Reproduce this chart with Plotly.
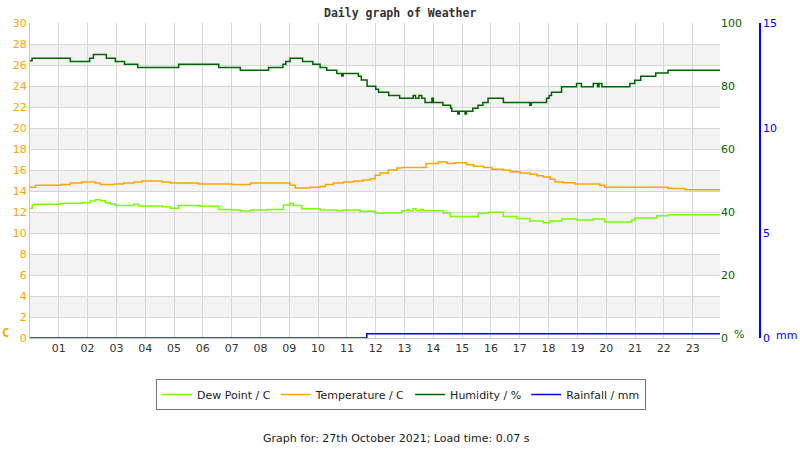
import plotly.graph_objects as go

# ---- data (hour of day, value) step points ----
hour_ticks = list(range(1, 24))
hour_labels = ["%02d" % h for h in hour_ticks]

humidity_steps = [
    (0, 88.0), (0.07, 88.8), (1.40, 87.8), (2.07, 88.8), (2.20, 90.0), (2.65, 88.8),
    (2.96, 87.8), (3.28, 86.9), (3.74, 85.9), (5.16, 86.9), (6.55, 85.9), (7.30, 85.0),
    (8.28, 85.9), (8.78, 86.9), (8.88, 87.8), (9.03, 88.8), (9.46, 87.8), (9.82, 86.9),
    (10.07, 85.9), (10.30, 85.0), (10.65, 84.0), (10.82, 83.2), (10.87, 84.0), (11.40, 83.1),
    (11.50, 81.9), (11.70, 79.9), (12.00, 79.0), (12.10, 78.0), (12.45, 77.0), (12.83, 76.1),
    (13.30, 77.0), (13.38, 76.1), (13.50, 77.0), (13.60, 76.1), (13.71, 74.8), (13.95, 76.1),
    (14.00, 74.8), (14.33, 73.9), (14.60, 72.9), (14.64, 72.0), (14.85, 71.1), (14.90, 72.0),
    (15.10, 71.1), (15.15, 72.0), (15.37, 72.9), (15.55, 73.9), (15.72, 74.8), (15.90, 76.1),
    (16.43, 74.8), (17.35, 73.9), (17.40, 74.8), (17.93, 76.1), (18.02, 77.0), (18.10, 78.0),
    (18.45, 79.8), (18.97, 80.8), (19.14, 79.8), (19.55, 80.8), (19.70, 79.8), (19.75, 80.8),
    (19.85, 79.8), (20.82, 80.8), (20.99, 81.8), (21.20, 83.1), (21.72, 84.1), (22.15, 85.0),
    (23.95, 85.0),
]

temperature_steps = [
    (0, 14.35), (0.19, 14.54), (1.06, 14.63), (1.40, 14.76), (1.81, 14.86), (2.27, 14.76),
    (2.44, 14.63), (2.91, 14.67), (3.25, 14.76), (3.60, 14.86), (3.89, 14.95), (4.58, 14.86),
    (4.87, 14.76), (5.85, 14.67), (7.01, 14.63), (7.65, 14.76), (9.03, 14.54), (9.21, 14.29),
    (9.73, 14.35), (10.07, 14.44), (10.25, 14.63), (10.53, 14.76), (10.88, 14.86), (11.23, 14.95),
    (11.57, 15.05), (11.81, 15.17), (11.98, 15.49), (12.15, 15.71), (12.44, 16.00), (12.73, 16.19),
    (12.90, 16.25), (13.75, 16.63), (14.17, 16.76), (14.47, 16.63), (14.75, 16.70), (15.16, 16.50),
    (15.39, 16.35), (15.74, 16.25), (16.03, 16.07), (16.43, 15.98), (16.66, 15.84), (17.01, 15.71),
    (17.35, 15.59), (17.59, 15.46), (17.82, 15.33), (18.05, 15.11), (18.22, 14.86), (18.51, 14.79),
    (18.91, 14.67), (19.78, 14.54), (19.95, 14.35), (22.15, 14.25), (22.73, 14.13), (23.95, 14.13),
]

dewpoint_steps = [
    (0, 12.35), (0.08, 12.67), (0.16, 12.73), (1.06, 12.83), (1.81, 12.89), (2.10, 13.05),
    (2.27, 13.17), (2.44, 13.08), (2.61, 12.89), (2.79, 12.76), (2.96, 12.63), (3.60, 12.73),
    (3.77, 12.57), (4.58, 12.51), (4.87, 12.35), (5.16, 12.63), (5.91, 12.54), (6.55, 12.25),
    (7.01, 12.19), (7.30, 12.10), (7.65, 12.19), (8.23, 12.25), (8.80, 12.67), (9.03, 12.83),
    (9.14, 12.63), (9.43, 12.32), (10.07, 12.19), (10.65, 12.13), (10.88, 12.19), (11.46, 12.06),
    (11.98, 11.87), (12.15, 11.90), (12.90, 12.13), (13.10, 12.25), (13.15, 12.13), (13.30, 12.30),
    (13.40, 12.13), (13.55, 12.25), (13.65, 12.13), (14.35, 11.87), (14.58, 11.56), (15.56, 11.87),
    (15.91, 11.97), (16.43, 11.56), (16.89, 11.37), (17.35, 11.14), (17.82, 10.98), (18.05, 11.14),
    (18.45, 11.33), (18.97, 11.24), (19.55, 11.33), (19.95, 11.05), (20.88, 11.24), (20.99, 11.43),
    (21.75, 11.65), (22.15, 11.75), (23.95, 11.75),
]

rainfall_steps = [(0, 0.0), (11.69, 0.2), (23.95, 0.2)]

temp_ticks = list(range(0, 31, 2))
hum_ticks = [0, 20, 40, 60, 80, 100]
rain_ticks = [0, 5, 10, 15]

# ---- layout constants ----
W, H = 800, 450
ML, MR, MT, MB = 30, 30, 23, 112
PW = W - ML - MR
PH = H - MT - MB
plot_right = 720


def px_x(px):
    return (px - ML) / PW


def px_y(py):
    return (H - MB - py) / PH


FONT = "DejaVu Sans"
ORANGE = "#FFA500"
GREEN = "#006400"
LIME = "#7CFC00"
BLUE = "#0000FF"
GRID = "#d6d6d6"

fig = go.Figure()

series = [
    ("Dew Point / C", dewpoint_steps, LIME, "y"),
    ("Temperature / C", temperature_steps, ORANGE, "y"),
    ("Humidity / %", humidity_steps, GREEN, "y2"),
    ("Rainfall / mm", rainfall_steps, BLUE, "y3"),
]
for name, steps, color, ax in series:
    xs = [p[0] for p in steps]
    ys = [p[1] for p in steps]
    fig.add_trace(go.Scatter(
        x=xs, y=ys, mode="lines", name=name, yaxis=ax,
        line=dict(shape="hv", color=color, width=1.5),
        hoverinfo="skip",
    ))

# alternating bands
shapes = []
for b in range(2, 30, 4):
    shapes.append(dict(type="rect", xref="x domain", yref="y", x0=0, x1=1, y0=b, y1=b + 2,
                       fillcolor="#f3f3f3", line=dict(width=0), layer="below"))

xdom = (plot_right - ML) / PW

fig.update_layout(
    width=W, height=H, autosize=False,
    margin=dict(l=ML, r=MR, t=MT, b=MB),
    paper_bgcolor="white", plot_bgcolor="white",
    font=dict(family=FONT, size=11, color="#333333"),
    shapes=shapes,
    showlegend=True,
    legend=dict(orientation="h", x=px_x(401), xanchor="center", y=px_y(379), yanchor="top",
                bordercolor="#777777", borderwidth=1, font=dict(size=11, color="#222222"),
                itemwidth=30, traceorder="normal"),
    xaxis=dict(domain=[0, xdom], range=[0, 23.95], tickvals=hour_ticks, ticktext=hour_labels,
               showgrid=True, gridcolor=GRID, gridwidth=1, showline=True, linecolor="#c8c8c8",
               zeroline=False, ticks="", tickfont=dict(size=11, color="#333333")),
    yaxis=dict(range=[0, 30], tickvals=temp_ticks, showgrid=True, gridcolor=GRID, gridwidth=1,
               showline=True, linecolor="#c8c8c8", zeroline=False, ticks="",
               tickfont=dict(size=11, color=ORANGE)),
    yaxis2=dict(range=[0, 100], tickvals=hum_ticks, overlaying="y", side="right", anchor="x",
                showgrid=False, zeroline=False, showline=False, ticks="",
                tickfont=dict(size=11, color=GREEN)),
    yaxis3=dict(range=[0, 15], tickvals=rain_ticks, overlaying="y", side="right", anchor="free",
                position=px_x(760), showgrid=False, zeroline=False, showline=True,
                linecolor=BLUE, linewidth=1.5, ticks="",
                tickfont=dict(size=11, color=BLUE)),
)

annotations = [
    dict(text="<b>Daily graph of Weather</b>", x=px_x(400), y=px_y(13), xref="paper", yref="paper",
         showarrow=False, xanchor="center", yanchor="middle",
         font=dict(family="DejaVu Sans Mono", size=11.5, color="#333333")),
    dict(text="<b>C</b>", x=px_x(5), y=px_y(333), xref="paper", yref="paper", showarrow=False,
         xanchor="center", yanchor="middle", font=dict(family="DejaVu Sans Mono", size=12, color=ORANGE)),
    dict(text="%", x=px_x(739), y=px_y(334), xref="paper", yref="paper", showarrow=False,
         xanchor="center", yanchor="middle", font=dict(size=11, color=GREEN)),
    dict(text="mm", x=px_x(786), y=px_y(335), xref="paper", yref="paper", showarrow=False,
         xanchor="center", yanchor="middle", font=dict(size=11, color=BLUE)),
    dict(text="Graph for: 27th October 2021; Load time: 0.07 s", x=px_x(396), y=px_y(438),
         xref="paper", yref="paper", showarrow=False, xanchor="center", yanchor="middle",
         font=dict(size=11, color="#222222")),
]
fig.update_layout(annotations=annotations)

fig.write_html("out.html")
